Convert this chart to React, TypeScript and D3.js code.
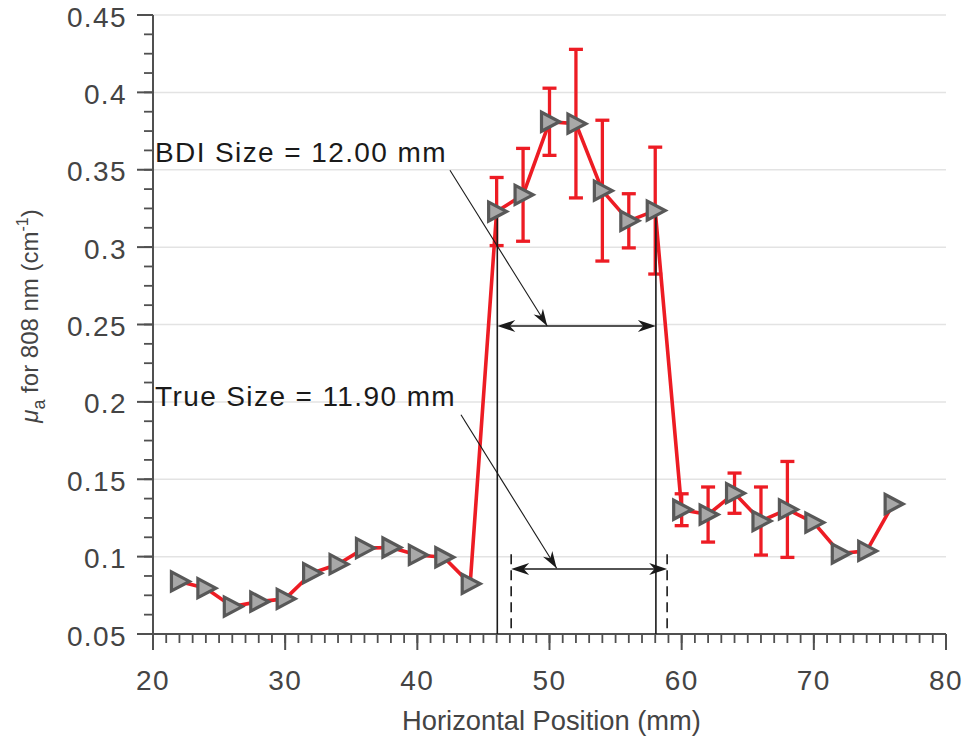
import React from "react";
import * as d3 from "d3";

// ---- data ----
const positions = [22, 24, 26, 28, 30, 32, 34, 36, 38, 40, 42, 44, 46, 48, 50, 52, 54, 56, 58, 60, 62, 64, 66, 68, 70, 72, 74, 76];
const muA = [0.084, 0.0796, 0.0677, 0.0709, 0.0727, 0.0893, 0.0951, 0.1055, 0.1059, 0.1011, 0.0996, 0.0824, 0.323, 0.3338, 0.381, 0.3798, 0.3365, 0.317, 0.3236, 0.1303, 0.1272, 0.141, 0.123, 0.1305, 0.122, 0.102, 0.1037, 0.134];
const errs = [0, 0, 0, 0, 0, 0, 0, 0, 0, 0, 0, 0, 0.022, 0.030, 0.0217, 0.048, 0.0455, 0.0175, 0.041, 0.0103, 0.0178, 0.013, 0.022, 0.031, 0, 0, 0, 0];

const xTicks = [20, 30, 40, 50, 60, 70, 80];
const xTickLabels = ["20", "30", "40", "50", "60", "70", "80"];
const yTicks = [0.05, 0.1, 0.15, 0.2, 0.25, 0.3, 0.35, 0.4, 0.45];
const yTickLabels = ["0.05", "0.1", "0.15", "0.2", "0.25", "0.3", "0.35", "0.4", "0.45"];
const xMinorStep = 1;
const yMinorStep = 0.0125;

// annotations (data units)
const bdiEdges = [46.05, 58.05];
const bdiTop = 0.323;
const bdiArrowY = 0.249;
const bdiLabel = "BDI Size = 12.00 mm";
const bdiLabelPos = [20.15, 0.3549];
const bdiLeader = [[42.47, 0.3497], [49.83, 0.249]];

const trueEdges = [47.1, 58.9];
const trueTop = 0.1015;
const trueArrowY = 0.092;
const trueLabel = "True Size = 11.90 mm";
const trueLabelPos = [20.15, 0.1971];
const trueLeader = [[43.3, 0.1917], [50.54, 0.0925]];

const W = 969;
const H = 740;
const RED = "#ed1c24";
const AX = "#505050";
const TXT = "#444444";
const FONT = "'Liberation Sans', Arial, Helvetica, sans-serif";

function arrowHead(tip: [number, number], from: [number, number], L = 18, Wd = 12) {
  const dx = tip[0] - from[0];
  const dy = tip[1] - from[1];
  const len = Math.hypot(dx, dy) || 1;
  const ux = dx / len, uy = dy / len;
  const nx = -uy, ny = ux;
  const bx = tip[0] - ux * L, by = tip[1] - uy * L;
  const notchX = tip[0] - ux * L * 0.7, notchY = tip[1] - uy * L * 0.7;
  const pts = [
    [tip[0], tip[1]],
    [bx + nx * Wd / 2, by + ny * Wd / 2],
    [notchX, notchY],
    [bx - nx * Wd / 2, by - ny * Wd / 2],
  ];
  return pts.map((p) => p.join(",")).join(" ");
}

export default function App() {
  const x = d3.scaleLinear().domain([20, 80]).range([153, 946]);
  const y = d3.scaleLinear().domain([0.05, 0.45]).range([634, 15]);

  const xMinor = d3.range(20, 80 + 1e-9, xMinorStep);
  const yMinor = d3.range(0, Math.round((0.45 - 0.05) / yMinorStep) + 1).map((i) => 0.05 + i * yMinorStep);

  const pts = positions.map((p, i) => ({ x: p, v: muA[i], e: errs[i] }));
  const line = d3.line<{ x: number; v: number }>().x((d) => x(d.x)).y((d) => y(d.v));

  const x0 = x(20);
  const x1 = x(80);
  const yb = y(0.05);
  const yt = y(0.45);

  const bdiL = x(bdiEdges[0]), bdiR = x(bdiEdges[1]);
  const trL = x(trueEdges[0]), trR = x(trueEdges[1]);
  const bArrowY = y(bdiArrowY);
  const tArrowY = y(trueArrowY);

  const bLeadA: [number, number] = [x(bdiLeader[0][0]), y(bdiLeader[0][1])];
  const bLeadB: [number, number] = [x(bdiLeader[1][0]), y(bdiLeader[1][1])];
  const tLeadA: [number, number] = [x(trueLeader[0][0]), y(trueLeader[0][1])];
  const tLeadB: [number, number] = [x(trueLeader[1][0]), y(trueLeader[1][1])];

  return (
    <div style={{ position: "absolute", left: 0, top: 0 }}>
      <svg width={W} height={H} style={{ display: "block", background: "#ffffff" }} fontFamily={FONT}>
        {/* grid */}
        {yTicks.filter((t) => t > 0.05).map((t) => (
          <line key={"g" + t} x1={x0} x2={x1} y1={y(t)} y2={y(t)} stroke="#e3e3e3" strokeWidth={1.5} />
        ))}

        {/* axes */}
        <line x1={x0} x2={x0} y1={yt} y2={yb} stroke={AX} strokeWidth={2} />
        <line x1={x0} x2={x1} y1={yb} y2={yb} stroke={AX} strokeWidth={2} />
        {xMinor.map((t) => (
          <line key={"xm" + t} x1={x(t)} x2={x(t)} y1={yb} y2={yb + 9} stroke={AX} strokeWidth={1.8} />
        ))}
        {xTicks.map((t) => (
          <line key={"xM" + t} x1={x(t)} x2={x(t)} y1={yb} y2={yb + 16} stroke={AX} strokeWidth={2} />
        ))}
        {yMinor.map((t) => (
          <line key={"ym" + t} x1={x0 - 9} x2={x0} y1={y(t)} y2={y(t)} stroke={AX} strokeWidth={1.8} />
        ))}
        {yTicks.map((t) => (
          <line key={"yM" + t} x1={x0 - 16} x2={x0} y1={y(t)} y2={y(t)} stroke={AX} strokeWidth={2} />
        ))}
        {xTicks.map((t, i) => (
          <text key={"xl" + t} x={x(t)} y={690} textAnchor="middle" fontSize={28} letterSpacing={1.4} fill={TXT}>
            {xTickLabels[i]}
          </text>
        ))}
        {yTicks.map((t, i) => (
          <text key={"yl" + t} x={127} y={y(t) + 11.5} textAnchor="end" fontSize={28} letterSpacing={1.4} fill={TXT}>
            {yTickLabels[i]}
          </text>
        ))}
        <text x={(x0 + x1) / 2 + 2} y={730} textAnchor="middle" fontSize={27.3} fill={TXT}>
          Horizontal Position (mm)
        </text>
        <text transform="translate(38,316) rotate(-90)" textAnchor="middle" fontSize={24} fill={TXT}>
          <tspan fontStyle="italic">μ</tspan>
          <tspan fontSize={18} dy={7}>a</tspan>
          <tspan dy={-7}>{" for 808 nm (cm"}</tspan>
          <tspan fontSize={16} dy={-10}>-1</tspan>
          <tspan dy={10}>)</tspan>
        </text>

        {/* error bars */}
        {pts.filter((d) => d.e > 0).map((d) => {
          const cx = x(d.x);
          const top = y(d.v + d.e);
          const bot = y(d.v - d.e);
          return (
            <g key={"e" + d.x} stroke={RED} strokeWidth={3.3}>
              <line x1={cx} x2={cx} y1={top} y2={bot} />
              <line x1={cx - 7} x2={cx + 7} y1={top} y2={top} />
              <line x1={cx - 7} x2={cx + 7} y1={bot} y2={bot} />
            </g>
          );
        })}

        {/* data line */}
        <path d={line(pts) || ""} fill="none" stroke={RED} strokeWidth={3.6} strokeLinejoin="round" />

        {/* BDI annotation */}
        <g stroke="#1a1a1a" fill="none">
          <line x1={bdiL} x2={bdiL} y1={y(bdiTop)} y2={yb} strokeWidth={1.6} />
          <line x1={bdiR} x2={bdiR} y1={y(bdiTop)} y2={yb} strokeWidth={1.6} />
          <line x1={trL} x2={trL} y1={y(trueTop)} y2={yb} strokeWidth={1.6} strokeDasharray="10,6" />
          <line x1={trR} x2={trR} y1={y(trueTop)} y2={yb} strokeWidth={1.6} strokeDasharray="10,6" />
          <line x1={bdiL + 10} x2={bdiR - 10} y1={bArrowY} y2={bArrowY} strokeWidth={1.4} />
          <line x1={trL + 10} x2={trR - 10} y1={tArrowY} y2={tArrowY} strokeWidth={1.4} />
          <line x1={bLeadA[0]} y1={bLeadA[1]} x2={bLeadB[0]} y2={bLeadB[1]} strokeWidth={1.1} />
          <line x1={tLeadA[0]} y1={tLeadA[1]} x2={tLeadB[0]} y2={tLeadB[1]} strokeWidth={1.1} />
        </g>
        <g fill="#1a1a1a" stroke="none">
          <polygon points={arrowHead([bdiL, bArrowY], [bdiR, bArrowY])} />
          <polygon points={arrowHead([bdiR, bArrowY], [bdiL, bArrowY])} />
          <polygon points={arrowHead([trL, tArrowY], [trR, tArrowY])} />
          <polygon points={arrowHead([trR, tArrowY], [trL, tArrowY])} />
          <polygon points={arrowHead(bLeadB, bLeadA, 17, 11)} />
          <polygon points={arrowHead(tLeadB, tLeadA, 17, 11)} />
        </g>
        <text x={x(bdiLabelPos[0])} y={y(bdiLabelPos[1])} fontSize={28} letterSpacing={1.4} fill="#1a1a1a">
          {bdiLabel}
        </text>
        <text x={x(trueLabelPos[0])} y={y(trueLabelPos[1])} fontSize={28} letterSpacing={1.4} fill="#1a1a1a">
          {trueLabel}
        </text>

        {/* markers */}
        {pts.map((d) => {
          const cx = x(d.x);
          const cy = y(d.v);
          const p = [
            [cx - 8, cy - 9.5],
            [cx - 8, cy + 9.5],
            [cx + 10, cy],
          ];
          return (
            <polygon
              key={"m" + d.x}
              points={p.map((q) => q.join(",")).join(" ")}
              fill="#a8a8a8"
              stroke="#585858"
              strokeWidth={3.2}
              strokeLinejoin="miter"
            />
          );
        })}
      </svg>
    </div>
  );
}
